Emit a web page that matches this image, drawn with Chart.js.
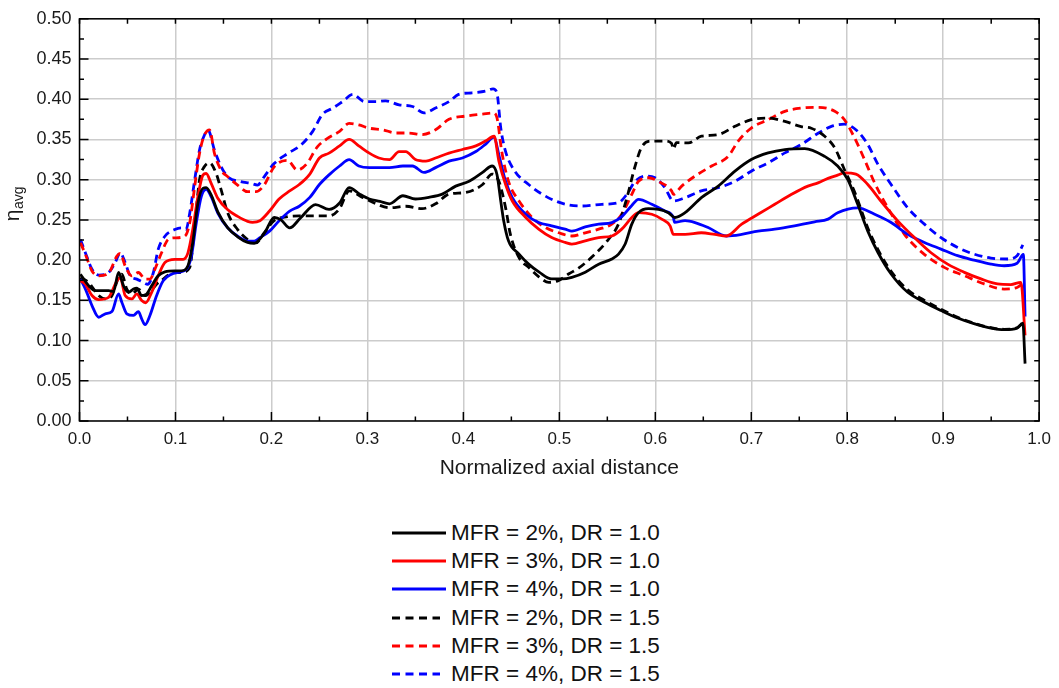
<!DOCTYPE html>
<html><head><meta charset="utf-8">
<script src="https://cdn.jsdelivr.net/npm/chart.js@4"></script>
<style>
html,body{margin:0;padding:0;background:#fff;}
#wrap{position:relative;width:1059px;height:688px;overflow:hidden;}
#c{position:absolute;left:0;top:0;}
#legend{position:absolute;left:392px;top:519px;font-family:"Liberation Sans",Arial,sans-serif;font-size:22.5px;color:#111;}
.row{height:28.2px;display:flex;align-items:center;white-space:nowrap;}
.row svg{margin-right:5px;flex:none;}
</style></head><body>
<div id="wrap"><canvas id="c" width="1059" height="490"></canvas><div id="legend"></div></div>
<script>
const FONT = '"Liberation Sans", Arial, sans-serif';

const seriesLabels = ['MFR = 2%, DR = 1.0','MFR = 3%, DR = 1.0','MFR = 4%, DR = 1.0','MFR = 2%, DR = 1.5','MFR = 3%, DR = 1.5','MFR = 4%, DR = 1.5'];
const seriesColors = ['#000000','#ff0000','#0000ff','#000000','#ff0000','#0000ff'];
const seriesDashed = [false,false,false,true,true,true];

const yTickLabels = ['0.00','0.05','0.10','0.15','0.20','0.25','0.30','0.35','0.40','0.45','0.50'];
const xTickLabels = ['0.0','0.1','0.2','0.3','0.4','0.5','0.6','0.7','0.8','0.9','1.0'];

// MFR = 2%, DR = 1.0
const x_2_10 = [0.001,0.0097,0.0166,0.0303,0.0355,0.0407,0.0459,0.051,0.0562,0.0597,0.0648,0.07,0.0752,0.082,0.089,0.0993,0.106,0.113,0.118,0.1234,0.1286,0.132,0.1372,0.1441,0.1545,0.1648,0.1752,0.1821,0.1924,0.203,0.21,0.219,0.23,0.246,0.26,0.271,0.281,0.292,0.302,0.313,0.323,0.337,0.35,0.364,0.378,0.392,0.406,0.42,0.43,0.435,0.439,0.442,0.447,0.458,0.468,0.479,0.492,0.503,0.513,0.527,0.541,0.5547,0.5617,0.5686,0.5755,0.5825,0.5929,0.6033,0.6136,0.6206,0.631,0.648,0.6656,0.683,0.7,0.7176,0.735,0.7557,0.7765,0.79,0.8006,0.811,0.8214,0.832,0.8457,0.863,0.8804,0.8977,0.915,0.932,0.9497,0.9635,0.977,0.983,0.9853];
const y_2_10 = [0.1825,0.168,0.162,0.162,0.161,0.1846,0.168,0.16,0.164,0.165,0.156,0.158,0.168,0.1805,0.1854,0.1866,0.1866,0.193,0.2215,0.2708,0.2892,0.29,0.281,0.26,0.24,0.229,0.222,0.221,0.233,0.253,0.25,0.24,0.252,0.269,0.263,0.271,0.29,0.282,0.276,0.273,0.27,0.28,0.276,0.278,0.282,0.292,0.298,0.309,0.317,0.3065,0.273,0.249,0.224,0.2075,0.195,0.185,0.1766,0.1766,0.1786,0.185,0.195,0.2014,0.2075,0.22,0.2447,0.259,0.264,0.263,0.259,0.253,0.259,0.2776,0.292,0.3106,0.325,0.3333,0.3375,0.3387,0.329,0.317,0.3,0.269,0.236,0.2095,0.1828,0.16,0.1477,0.1374,0.128,0.121,0.1155,0.1135,0.1155,0.1217,0.0714];

// MFR = 3%, DR = 1.0
const x_3_10 = [0.001,0.0062,0.013,0.02,0.0303,0.039,0.0424,0.0476,0.0545,0.0597,0.0648,0.069,0.0752,0.082,0.089,0.0993,0.108,0.113,0.118,0.1234,0.1286,0.132,0.1372,0.1441,0.1545,0.1648,0.1752,0.1803,0.188,0.198,0.208,0.219,0.229,0.24,0.25,0.26,0.271,0.281,0.291,0.302,0.312,0.323,0.333,0.34,0.35,0.361,0.371,0.385,0.399,0.413,0.423,0.432,0.437,0.444,0.451,0.465,0.4785,0.492,0.506,0.513,0.527,0.541,0.5547,0.565,0.5755,0.5825,0.5963,0.6067,0.6154,0.6188,0.631,0.648,0.662,0.674,0.69,0.707,0.7245,0.742,0.759,0.7695,0.78,0.79,0.797,0.809,0.8214,0.835,0.8526,0.87,0.887,0.9046,0.922,0.9393,0.9566,0.9704,0.981,0.9853];
const y_3_10 = [0.1743,0.17,0.156,0.151,0.1538,0.1743,0.1784,0.156,0.1517,0.158,0.1497,0.147,0.16,0.1805,0.197,0.201,0.201,0.209,0.238,0.279,0.3057,0.3077,0.2954,0.277,0.2626,0.2544,0.2482,0.247,0.249,0.261,0.276,0.286,0.294,0.307,0.327,0.333,0.342,0.35,0.342,0.333,0.327,0.325,0.335,0.335,0.325,0.323,0.327,0.333,0.3375,0.342,0.348,0.354,0.323,0.294,0.2735,0.253,0.2385,0.228,0.222,0.22,0.224,0.228,0.23,0.2385,0.253,0.259,0.257,0.251,0.2426,0.232,0.232,0.234,0.232,0.23,0.2447,0.257,0.2694,0.2818,0.292,0.296,0.3016,0.3057,0.3085,0.307,0.294,0.2735,0.2488,0.228,0.2095,0.195,0.1848,0.1766,0.1704,0.1696,0.1724,0.1064];

// MFR = 4%, DR = 1.0
const x_4_10 = [0.001,0.0062,0.013,0.02,0.0269,0.0338,0.0407,0.0441,0.0493,0.0562,0.0614,0.0648,0.0683,0.0734,0.0803,0.0872,0.0959,0.1028,0.1114,0.1166,0.1217,0.1269,0.132,0.1372,0.1441,0.1545,0.1648,0.1752,0.1821,0.188,0.198,0.208,0.219,0.229,0.24,0.25,0.26,0.271,0.281,0.291,0.302,0.312,0.323,0.337,0.347,0.359,0.371,0.385,0.399,0.413,0.423,0.432,0.437,0.444,0.451,0.465,0.4785,0.492,0.506,0.513,0.527,0.541,0.5547,0.565,0.5755,0.5825,0.5963,0.61,0.6188,0.62,0.631,0.6414,0.655,0.674,0.69,0.707,0.7245,0.745,0.766,0.78,0.79,0.811,0.8285,0.8457,0.863,0.8804,0.8977,0.915,0.932,0.9497,0.9635,0.977,0.9835,0.9853];
const y_4_10 = [0.1764,0.164,0.1435,0.129,0.1333,0.136,0.158,0.1476,0.1333,0.1312,0.136,0.127,0.1197,0.1312,0.1558,0.1743,0.1825,0.1846,0.1887,0.205,0.2461,0.279,0.288,0.279,0.2585,0.24,0.2297,0.2236,0.2236,0.228,0.236,0.249,0.261,0.267,0.278,0.294,0.306,0.317,0.325,0.317,0.315,0.315,0.315,0.317,0.317,0.309,0.315,0.323,0.327,0.335,0.344,0.353,0.331,0.298,0.2776,0.257,0.2467,0.2426,0.2385,0.236,0.2413,0.2447,0.2467,0.254,0.268,0.2756,0.2694,0.261,0.253,0.247,0.249,0.2467,0.2405,0.23,0.232,0.236,0.2385,0.2426,0.2475,0.251,0.259,0.265,0.257,0.2467,0.232,0.222,0.2137,0.2055,0.2,0.195,0.193,0.196,0.207,0.13];

// MFR = 2%, DR = 1.5
const x_2_15 = [0.001,0.0097,0.02,0.0269,0.0338,0.04,0.0441,0.0493,0.0545,0.0614,0.0683,0.0734,0.0803,0.0872,0.0976,0.106,0.1148,0.12,0.125,0.13,0.1355,0.1424,0.1476,0.1545,0.1648,0.1752,0.1838,0.1924,0.2028,0.2166,0.229,0.246,0.26,0.271,0.281,0.295,0.309,0.323,0.34,0.357,0.371,0.385,0.402,0.42,0.43,0.437,0.444,0.449,0.458,0.468,0.479,0.489,0.499,0.51,0.52,0.535,0.55,0.5617,0.5703,0.5785,0.5855,0.595,0.61,0.617,0.6188,0.622,0.6344,0.648,0.6656,0.683,0.7,0.7176,0.735,0.752,0.7625,0.7765,0.787,0.797,0.8076,0.8214,0.832,0.8457,0.863,0.8804,0.8977,0.915,0.932,0.9497,0.9635,0.977,0.983];
const y_2_15 = [0.1784,0.172,0.156,0.1517,0.1558,0.1764,0.1825,0.164,0.158,0.164,0.1558,0.16,0.17,0.1764,0.1846,0.1846,0.1907,0.242,0.2995,0.316,0.321,0.3077,0.2872,0.2585,0.238,0.2256,0.2215,0.2338,0.249,0.254,0.255,0.255,0.255,0.264,0.286,0.278,0.27,0.265,0.267,0.264,0.27,0.282,0.284,0.294,0.307,0.298,0.265,0.232,0.203,0.191,0.179,0.1724,0.1745,0.183,0.19,0.205,0.224,0.245,0.277,0.315,0.34,0.348,0.348,0.345,0.338,0.346,0.3457,0.354,0.356,0.3663,0.3746,0.3766,0.3725,0.366,0.364,0.354,0.3395,0.3127,0.285,0.24,0.213,0.186,0.163,0.15,0.139,0.129,0.1215,0.116,0.114,0.116,0.122];

// MFR = 3%, DR = 1.5
const x_3_15 = [0.001,0.0062,0.013,0.02,0.0303,0.039,0.0424,0.0476,0.0545,0.0614,0.0683,0.0734,0.0786,0.0855,0.0924,0.0993,0.1097,0.1148,0.12,0.125,0.13,0.1355,0.1407,0.1476,0.1545,0.1648,0.1752,0.1838,0.1924,0.2028,0.2166,0.227,0.237,0.2476,0.258,0.271,0.281,0.291,0.302,0.316,0.33,0.343,0.357,0.371,0.385,0.402,0.42,0.431,0.435,0.44,0.447,0.458,0.4716,0.4855,0.4993,0.513,0.527,0.541,0.5547,0.565,0.5755,0.5825,0.593,0.603,0.617,0.6188,0.6275,0.6414,0.6587,0.676,0.6864,0.7,0.7176,0.735,0.752,0.7695,0.787,0.797,0.8076,0.818,0.8285,0.8423,0.8596,0.88,0.901,0.922,0.9427,0.9635,0.977,0.983];
const y_3_15 = [0.2215,0.2071,0.1866,0.1805,0.1838,0.205,0.2084,0.1928,0.1805,0.1846,0.1764,0.1764,0.1887,0.2092,0.2256,0.2277,0.2297,0.2461,0.2913,0.3323,0.355,0.362,0.3323,0.3118,0.3036,0.2933,0.2851,0.2851,0.2933,0.316,0.3241,0.312,0.32,0.3405,0.351,0.36,0.37,0.368,0.364,0.362,0.358,0.358,0.356,0.362,0.375,0.379,0.3815,0.383,0.377,0.335,0.298,0.2735,0.253,0.2405,0.234,0.23,0.234,0.2385,0.2447,0.257,0.2818,0.298,0.3024,0.298,0.286,0.2818,0.292,0.3045,0.317,0.329,0.348,0.3642,0.3746,0.385,0.389,0.39,0.385,0.3746,0.352,0.325,0.296,0.265,0.232,0.2075,0.191,0.1807,0.1704,0.164,0.166,0.171];

// MFR = 4%, DR = 1.5
const x_4_15 = [0.001,0.0062,0.013,0.02,0.0303,0.0372,0.0424,0.0476,0.0528,0.0597,0.0666,0.071,0.077,0.082,0.089,0.0993,0.106,0.111,0.1148,0.12,0.125,0.13,0.1338,0.1407,0.1476,0.1545,0.168,0.1786,0.1855,0.1924,0.2028,0.2166,0.2303,0.243,0.253,0.264,0.274,0.285,0.297,0.309,0.319,0.333,0.347,0.359,0.371,0.385,0.395,0.409,0.423,0.431,0.435,0.439,0.444,0.454,0.468,0.482,0.496,0.51,0.5235,0.5443,0.5617,0.5703,0.579,0.5894,0.5998,0.61,0.6188,0.631,0.648,0.6656,0.683,0.7,0.7176,0.735,0.752,0.77,0.7835,0.797,0.811,0.8214,0.832,0.8457,0.863,0.8804,0.8977,0.915,0.932,0.9497,0.967,0.977,0.983];
const y_4_15 = [0.2256,0.209,0.1887,0.1813,0.1846,0.197,0.209,0.197,0.1805,0.1764,0.1722,0.17,0.1846,0.2133,0.2297,0.238,0.24,0.238,0.258,0.2995,0.3365,0.355,0.362,0.3365,0.316,0.3036,0.2975,0.2954,0.2933,0.3036,0.32,0.3323,0.3426,0.36,0.381,0.389,0.397,0.406,0.397,0.397,0.398,0.393,0.391,0.383,0.389,0.397,0.406,0.408,0.41,0.413,0.4076,0.364,0.335,0.31,0.294,0.282,0.2735,0.2686,0.2673,0.2694,0.2714,0.2818,0.298,0.3045,0.3024,0.29,0.2735,0.2776,0.286,0.29,0.298,0.3106,0.321,0.3333,0.3437,0.358,0.3663,0.369,0.36,0.3437,0.319,0.294,0.265,0.2447,0.228,0.2157,0.2075,0.2026,0.2014,0.2055,0.219];

const seriesX = [x_2_10, x_3_10, x_4_10, x_2_15, x_3_15, x_4_15];
const seriesY = [y_2_10, y_3_10, y_4_10, y_2_15, y_3_15, y_4_15];

const datasets = seriesLabels.map((lab, i) => ({
  label: lab,
  data: seriesX[i].map((xv, k) => ({x: xv, y: seriesY[i][k]})),
  borderColor: seriesColors[i],
  backgroundColor: seriesColors[i],
  borderWidth: 2.8,
  borderDash: seriesDashed[i] ? [8, 5] : [],
  pointRadius: 0,
  fill: false,
  cubicInterpolationMode: 'monotone'
}));

const framePlugin = {
  id: 'frame',
  afterDatasetsDraw(chart) {
    const {ctx, chartArea: {left, right, top, bottom}, scales: {x, y}} = chart;
    ctx.save();
    ctx.strokeStyle = '#000';
    ctx.lineWidth = 1.5;
    ctx.strokeRect(left, top, right - left, bottom - top);
    ctx.beginPath();
    for (let i = 0; i <= 20; i++) {
      const py = y.getPixelForValue(i * 0.025);
      const major = i % 2 === 0;
      ctx.moveTo(left, py); ctx.lineTo(left + (major ? 9 : 4.5), py);
      ctx.moveTo(right, py); ctx.lineTo(right - 5, py);
    }
    for (let i = 0; i <= 20; i++) {
      const px = x.getPixelForValue(i * 0.05);
      const major = i % 2 === 0;
      ctx.moveTo(px, bottom); ctx.lineTo(px, bottom - (major ? 9 : 4.5));
      ctx.moveTo(px, top); ctx.lineTo(px, top + 5);
    }
    ctx.stroke();
    ctx.restore();
  },
  afterDraw(chart) {
    const ctx = chart.ctx;
    ctx.save();
    ctx.translate(19, 204);
    ctx.rotate(-Math.PI / 2);
    ctx.fillStyle = '#1a1a1a';
    ctx.textBaseline = 'alphabetic';
    ctx.font = '21px ' + FONT;
    const w1 = ctx.measureText('η').width;
    ctx.font = '14px ' + FONT;
    const w2 = ctx.measureText('avg').width;
    const start = -(w1 + w2) / 2;
    ctx.font = '21px ' + FONT;
    ctx.fillText('η', start, 0);
    ctx.font = '14px ' + FONT;
    ctx.fillText('avg', start + w1 + 0.5, 4);
    ctx.restore();
  }
};

new Chart(document.getElementById('c'), {
  type: 'line',
  data: {datasets},
  options: {
    responsive: false,
    animation: false,
    layout: {padding: {left: 0, right: 17, top: 17.5, bottom: 0}},
    plugins: {legend: {display: false}, tooltip: {enabled: false}},
    scales: {
      x: {
        type: 'linear', min: 0, max: 1,
        border: {display: false},
        grid: {color: '#cccccc', lineWidth: 1.5, drawTicks: false},
        ticks: {stepSize: 0.1, padding: 8, color: '#1a1a1a', font: {family: FONT, size: 17},
          maxRotation: 0, autoSkip: false,
          callback: (v, i) => xTickLabels[i]},
        title: {display: true, text: 'Normalized axial distance', color: '#1a1a1a',
          font: {family: FONT, size: 21}, padding: {top: 0, bottom: 9}},
        afterFit: (s) => { s.height = 69; }
      },
      y: {
        type: 'linear', min: 0, max: 0.5,
        border: {display: false},
        grid: {color: '#cccccc', lineWidth: 1.5, drawTicks: false},
        ticks: {stepSize: 0.05, padding: 8, color: '#1a1a1a', font: {family: FONT, size: 18},
          autoSkip: false, callback: (v, i) => yTickLabels[i]},
        afterFit: (s) => { s.width = 79.5; }
      }
    }
  },
  plugins: [framePlugin]
});

const legend = document.getElementById('legend');
seriesLabels.forEach((lab, i) => {
  const row = document.createElement('div');
  row.className = 'row';
  const dash = seriesDashed[i] ? 'stroke-dasharray="8 5.5"' : '';
  row.innerHTML = '<svg width="54" height="10"><line x1="0" y1="5" x2="' + (seriesDashed[i] ? 48 : 54) + '" y2="5" stroke="' + seriesColors[i] + '" stroke-width="3" ' + dash + '/></svg><span>' + lab + '</span>';
  legend.appendChild(row);
});
</script>
</body></html>
